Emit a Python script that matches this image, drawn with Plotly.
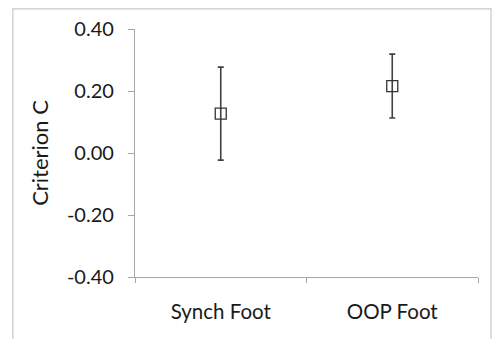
import plotly.graph_objects as go

categories = ["Synch Foot", "OOP Foot"]
means = [0.127, 0.216]
errors = [0.150, 0.103]
y_ticks = [-0.40, -0.20, 0.00, 0.20, 0.40]
y_tick_labels = ["-0.40", "-0.20", "0.00", "0.20", "0.40"]

font_family = "Lato, Open Sans, sans-serif"
axis_color = "#a6a6a6"

fig = go.Figure()
fig.add_trace(go.Scatter(
    x=categories, y=means, mode="markers",
    marker=dict(symbol="square-open", size=11, color="#333333",
                line=dict(width=1.3, color="#333333")),
    error_y=dict(type="data", array=errors, visible=True,
                 color="#404040", thickness=1.6, width=3),
    showlegend=False,
))

fig.update_layout(
    width=493, height=339,
    margin=dict(l=135, r=15, t=29, b=62),
    paper_bgcolor="white", plot_bgcolor="white",
    font=dict(family=font_family, size=18, color="#1a1a1a"),
    xaxis=dict(
        type="category", range=[-0.5, 1.5],
        showline=True, linecolor=axis_color, linewidth=1.3,
        ticks="outside", tickson="boundaries", ticklen=5, tickcolor=axis_color,
        showgrid=False, zeroline=False,
        ticklabelstandoff=16,
        tickfont=dict(size=20.5),
    ),
    yaxis=dict(
        range=[-0.40, 0.40],
        tickmode="array", tickvals=y_ticks, ticktext=y_tick_labels,
        showline=True, linecolor=axis_color, linewidth=1.3,
        ticks="outside", ticklen=6, tickcolor=axis_color,
        showgrid=False, zeroline=False,
        ticklabelstandoff=10,
        tickfont=dict(size=20),
        title=dict(text="Criterion C", font=dict(size=22), standoff=12),
    ),
    shapes=[dict(
        type="rect", xref="paper", yref="paper",
        x0=-0.356, x1=1.038, y0=-0.30, y1=1.081,
        line=dict(color="#c8c8c8", width=1.2), fillcolor="rgba(0,0,0,0)",
        layer="below",
    )],
)

fig.write_html("out.html")
